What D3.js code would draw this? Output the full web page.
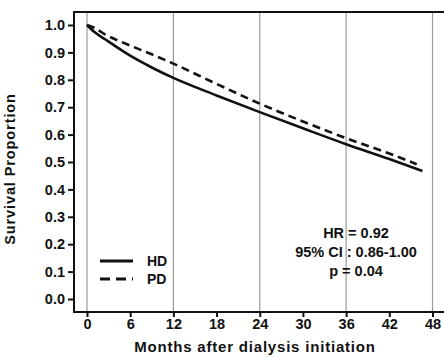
<!DOCTYPE html>
<html>
<head>
<meta charset="utf-8">
<script src="https://cdn.jsdelivr.net/npm/d3@7"></script>
<style>
  body { margin: 0; background: #fff; }
  text { font-family: "Liberation Sans", Arial, sans-serif; font-weight: bold; fill: #111; }
</style>
</head>
<body>
<svg id="chart" width="444" height="358"></svg>
<script>
// survival curves
let hdMonths = [0, 1, 2.5, 6, 9, 12, 18, 24, 30, 36, 42, 46.6];
let hdValues = [1.0, 0.975, 0.948, 0.888, 0.845, 0.807, 0.743, 0.682, 0.623, 0.565, 0.511, 0.467];
let pdMonths = [0, 1, 2.5, 6, 9, 12, 18, 24, 30, 36, 42, 45.8];
let pdValues = [1.0, 0.99, 0.966, 0.925, 0.893, 0.859, 0.785, 0.713, 0.648, 0.587, 0.531, 0.492];

let xTicks = [0, 6, 12, 18, 24, 30, 36, 42, 48];
let gridMonths = [0, 12, 24, 36, 48];
let yTicks = [0, 0.1, 0.2, 0.3, 0.4, 0.5, 0.6, 0.7, 0.8, 0.9, 1.0];
let legendLabels = ['HD', 'PD'];
let statLines = ['HR = 0.92', '95% CI : 0.86-1.00', 'p = 0.04'];

let svg = d3.select('#chart');

let frame = { left: 74, top: 12, right: 445, bottom: 312 };

let x = d3.scaleLinear().domain([0, 48]).range([87, 432.5]);
let y = d3.scaleLinear().domain([0, 1]).range([299, 25]);

// vertical gridlines
svg.selectAll('.grid')
  .data(gridMonths)
  .enter()
  .append('line')
  .attr('x1', d => x(d))
  .attr('x2', d => x(d))
  .attr('y1', frame.top)
  .attr('y2', frame.bottom)
  .attr('stroke', '#9a9a9a')
  .attr('stroke-width', 1.2);

// frame
svg.append('path')
  .attr('d', 'M' + frame.right + ',' + frame.top + 'H' + frame.left + 'V' + frame.bottom + 'H' + frame.right)
  .attr('fill', 'none')
  .attr('stroke', '#111')
  .attr('stroke-width', 2);

// y axis
let yAxis = svg.append('g')
  .attr('transform', 'translate(' + frame.left + ',0)')
  .call(d3.axisLeft(y).tickValues(yTicks).tickFormat(d3.format('.1f')).tickSize(6).tickPadding(3));
yAxis.select('.domain').remove();
yAxis.selectAll('.tick line').attr('stroke', '#111').attr('stroke-width', 2);
yAxis.selectAll('.tick text').attr('font-size', 14.5).attr('font-family', null).style('fill', '#111');

// x axis
let xAxis = svg.append('g')
  .attr('transform', 'translate(0,' + frame.bottom + ')')
  .call(d3.axisBottom(x).tickValues(xTicks).tickSize(5).tickPadding(2));
xAxis.select('.domain').remove();
xAxis.selectAll('.tick line').attr('stroke', '#111').attr('stroke-width', 2);
xAxis.selectAll('.tick text').attr('font-size', 14.5).attr('font-family', null).style('fill', '#111');

// axis titles
svg.append('text')
  .attr('transform', 'translate(15,' + 169 + ') rotate(-90)')
  .attr('text-anchor', 'middle')
  .attr('font-size', 14.5)
  .attr('letter-spacing', 0.9)
  .text('Survival Proportion');

svg.append('text')
  .attr('x', 255)
  .attr('y', 352)
  .attr('text-anchor', 'middle')
  .attr('font-size', 15)
  .attr('letter-spacing', 0.8)
  .text('Months after dialysis initiation');

// curves
let line = d3.line()
  .curve(d3.curveMonotoneX)
  .x(d => x(d[0]))
  .y(d => y(d[1]));

svg.append('path')
  .datum(hdMonths.map((m, i) => [m, hdValues[i]]))
  .attr('fill', 'none')
  .attr('stroke', '#111')
  .attr('stroke-width', 2.6)
  .attr('d', line);

svg.append('path')
  .datum(pdMonths.map((m, i) => [m, pdValues[i]]))
  .attr('fill', 'none')
  .attr('stroke', '#111')
  .attr('stroke-width', 2.6)
  .attr('stroke-dasharray', '8,5')
  .attr('d', line);

// legend
let legend = svg.selectAll('.legend')
  .data(legendLabels)
  .enter()
  .append('g')
  .attr('transform', (d, i) => 'translate(100,' + (261 + i * 18) + ')');

legend.append('line')
  .attr('x1', 0)
  .attr('x2', 33)
  .attr('stroke', '#111')
  .attr('stroke-width', 2.8)
  .attr('stroke-dasharray', (d, i) => i ? '10,6' : null);

legend.append('text')
  .attr('x', 47)
  .attr('y', 5)
  .attr('font-size', 14)
  .text(d => d);

// stats
svg.selectAll('.stat')
  .data(statLines)
  .enter()
  .append('text')
  .attr('x', 356)
  .attr('y', (d, i) => 238 + i * 19)
  .attr('text-anchor', 'middle')
  .attr('font-size', 14.5)
  .text(d => d);
</script>
</body>
</html>
